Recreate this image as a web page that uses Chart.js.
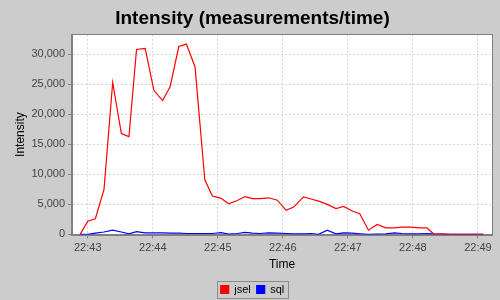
<!DOCTYPE html>
<html>
<head>
<meta charset="utf-8">
<script src="https://cdn.jsdelivr.net/npm/chart.js@4/dist/chart.umd.min.js"></script>
<style>
  html, body { margin: 0; padding: 0; background: #cccccc; }
  #wrap { width: 500px; height: 300px; }
</style>
</head>
<body>
<div id="wrap"><canvas id="grafico" width="500" height="300"></canvas></div>
<script>
// dados (segundos a partir de 22:43:00)
const tempos = [-7, 0, 7, 15, 23, 31, 38, 45, 53, 61, 69, 76, 84, 91, 99, 108, 115, 123, 130, 138,
  145, 152, 159, 167, 175, 183, 190, 199, 206, 213, 221, 229, 236, 244, 251, 259, 267, 275, 283, 290,
  298, 306, 313, 319, 327, 335, 342, 350, 358, 365];
const jsel = [0, 2200, 2600, 7500, 25300, 16800, 16300, 30800, 31000, 24000, 22300, 24600, 31300, 31700, 27900, 9100, 6400, 6000, 5100, 5650,
  6300, 5950, 5950, 6100, 5700, 4000, 4550, 6250, 5900, 5550, 5000, 4300, 4650, 3900, 3450, 700, 1650, 1100, 1100, 1200,
  1200, 1100, 1100, 100, 50, 0, 0, 0, 0, 0];
const sql = [0, 0, 200, 400, 700, 400, 100, 450, 250, 250, 250, 200, 200, 150, 150, 150, 150, 300, 50, 150,
  350, 200, 150, 250, 200, 150, 100, 100, 150, 0, 700, 100, 250, 200, 100, 0, 50, 100, 250, 150,
  100, 100, 150, 80, 50, 0, 0, 0, 0, 0];
const tickSegundos = [0, 60, 120, 180, 240, 300, 360];
const tickRotulos = ['22:43', '22:44', '22:45', '22:46', '22:47', '22:48', '22:49'];
const tickIntensidade = [0, 5000, 10000, 15000, 20000, 25000, 30000];

const fonte = "'Liberation Sans', Arial, sans-serif";

// fundo cinza + área branca + contorno
const fundo = {
  id: 'fundo',
  beforeDraw(chart) {
    const { ctx, chartArea: a } = chart;
    ctx.save();
    ctx.fillStyle = '#cccccc';
    ctx.fillRect(0, 0, chart.width, chart.height);
    ctx.fillStyle = '#ffffff';
    ctx.fillRect(a.left, a.top, a.right - a.left, a.bottom - a.top);
    ctx.restore();
  },
  afterDraw(chart) {
    const { ctx, chartArea: a } = chart;
    ctx.save();
    ctx.strokeStyle = '#808080';
    ctx.lineWidth = 1;
    ctx.strokeRect(Math.round(a.left) - 0.5, Math.round(a.top) - 0.5,
      Math.round(a.right - a.left) + 1, Math.round(a.bottom - a.top) + 1);
    // caixa da legenda
    const boxes = chart.legend.legendHitBoxes;
    if (boxes && boxes.length) {
      const x0 = Math.min(...boxes.map(b => b.left)) - 4;
      const x1 = Math.max(...boxes.map(b => b.left + b.width)) + 3;
      const y0 = Math.min(...boxes.map(b => b.top)) - 3;
      const y1 = Math.max(...boxes.map(b => b.top + b.height)) + 3;
      ctx.strokeStyle = '#8c8c8c';
      ctx.strokeRect(Math.round(x0) + 0.5, Math.round(y0) + 0.5, Math.round(x1 - x0), Math.round(y1 - y0));
    }
    ctx.restore();
  }
};

const ctx = document.getElementById('grafico').getContext('2d');
new Chart(ctx, {
  type: 'line',
  data: {
    datasets: [
      {
        label: 'jsel',
        data: tempos.map((t, i) => ({ x: t, y: jsel[i] })),
        borderColor: '#ff0000',
        backgroundColor: '#ff0000',
        borderWidth: 1.2,
        pointRadius: 0,
        tension: 0
      },
      {
        label: 'sql',
        data: tempos.map((t, i) => ({ x: t, y: sql[i] })),
        borderColor: '#0000ff',
        backgroundColor: '#0000ff',
        borderWidth: 1.2,
        pointRadius: 0,
        tension: 0
      }
    ]
  },
  options: {
    responsive: false,
    animation: false,
    devicePixelRatio: 1,
    layout: { padding: { left: 13, right: 8, top: 0, bottom: -5 } },
    plugins: {
      title: {
        display: true,
        text: 'Intensity (measurements/time)',
        color: '#000',
        font: { family: fonte, size: 19, weight: 'bold' },
        padding: { top: 7, bottom: 5 }
      },
      legend: {
        position: 'bottom',
        labels: {
          boxWidth: 8,
          boxHeight: 8,
          padding: 6,
          color: '#000',
          font: { family: fonte, size: 11 }
        }
      },
      tooltip: { enabled: false }
    },
    scales: {
      x: {
        type: 'linear',
        min: -14.5,
        max: 373,
        afterBuildTicks: scale => { scale.ticks = tickSegundos.map(v => ({ value: v })); },
        ticks: {
          color: '#444',
          font: { family: fonte, size: 11 },
          padding: 3,
          maxRotation: 0,
          callback: v => tickRotulos[tickSegundos.indexOf(v)]
        },
        grid: { color: '#d4d4d4', tickColor: '#808080', tickLength: 4 },
        border: { color: '#808080', dash: [2, 2] },
        title: {
          display: true,
          text: 'Time',
          color: '#000',
          font: { family: fonte, size: 12 },
          padding: { top: 0, bottom: 6 }
        }
      },
      y: {
        min: 0,
        max: 33250,
        afterBuildTicks: scale => { scale.ticks = tickIntensidade.map(v => ({ value: v })); },
        ticks: {
          color: '#444',
          font: { family: fonte, size: 11 },
          padding: 3,
          callback: v => v.toLocaleString('en-US')
        },
        grid: { color: '#d4d4d4', tickColor: '#808080', tickLength: 4 },
        border: { color: '#808080', dash: [2, 2] },
        title: {
          display: true,
          text: 'Intensity',
          color: '#000',
          font: { family: fonte, size: 12 },
          padding: { top: 0, bottom: 1 }
        }
      }
    }
  },
  plugins: [fundo]
});
</script>
</body>
</html>
